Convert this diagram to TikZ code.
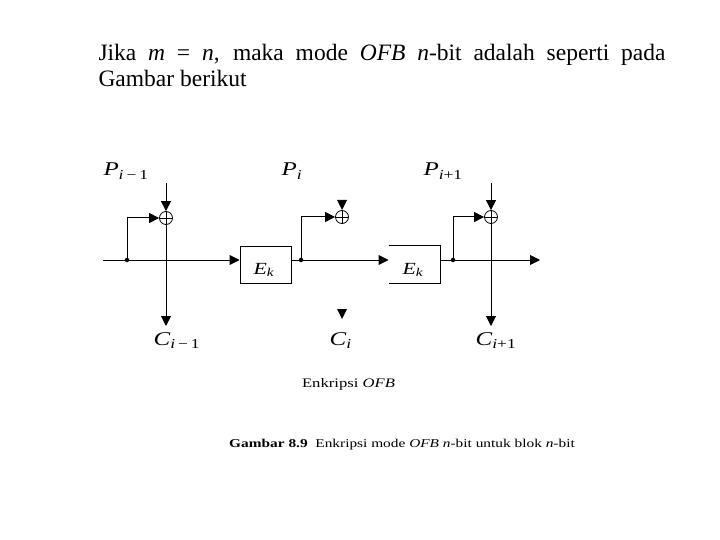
\documentclass[tikz,border=0pt]{standalone}
\usepackage{fontspec}
\setmainfont{Liberation Serif}
\usetikzlibrary{arrows.meta}
\newcommand{\lab}[2]{\scalebox{1.28}[1]{\fontsize{19.5}{22}\selectfont\textit{#1}\textsubscript{#2}}}
\newcommand{\stretchtxt}[1]{\scalebox{1.28}[1]{#1}}
\begin{document}
\begin{tikzpicture}[x=1pt,y=-1pt,line width=1pt,
  arr/.style={-{Triangle[length=10pt,width=10pt]}},
  xor/.style={circle,draw,line width=0.8pt,minimum size=13pt,inner sep=0pt,
    path picture={\draw[line width=0.8pt] (path picture bounding box.north) -- (path picture bounding box.south)
      (path picture bounding box.west) -- (path picture bounding box.east);}},
  ekbox/.style={minimum width=51pt,minimum height=37pt,inner sep=0pt},
  dotn/.style={circle,fill,inner sep=0pt,minimum size=4.5pt},
  lbl/.style={anchor=base west,inner sep=0pt},
  headtxt/.style={anchor=base west,inner sep=0pt,font=\fontsize{23.5}{27}\selectfont}
]
\useasboundingbox (0,0) rectangle (720,540);
% heading
\node[headtxt] (h1) at (98,61) {\makebox[567pt][s]{Jika \textit{m} = \textit{n}, maka mode \textit{OFB} \textit{n}-bit adalah seperti pada}};
\node[headtxt] (h2) at (98,87) {Gambar berikut};
% nodes
\coordinate (start) at (103,260);
\coordinate (end) at (540,260);
\node[dotn] (dot1) at (127,260) {};
\node[dotn] (dot2) at (301,260) {};
\node[dotn] (dot3) at (453,260) {};
\node[xor] (xor1) at (166,218) {};
\node[xor] (xor2) at (342,217) {};
\node[xor] (xor3) at (491,217) {};
\coordinate (top1) at (166,183);
\coordinate (bot1) at (166,326);
\coordinate (top3) at (491,183);
\coordinate (bot3) at (491,326);
\node[ekbox,draw] (ek1) at (265.5,264.5) {};
\node[ekbox] (ek2) at (414.5,264.5) {};
\draw (ek2.north west) -- (ek2.north east) -- (ek2.south east) -- (ek2.south west);
\node[lbl] (e1) at (253,274) {\scalebox{1.28}[1]{\fontsize{17}{20}\selectfont\textit{E}\textsubscript{\textit{k}}}};
\node[lbl] (e2) at (402,274) {\scalebox{1.28}[1]{\fontsize{17}{20}\selectfont\textit{E}\textsubscript{\textit{k}}}};
% main line
\draw[arr] (start) -- (ek1.west |- start);
\draw[arr] (ek1.east |- start) -- (ek2.west |- start);
\draw[arr] (ek2.east |- start) -- (end);
% feedback
\draw[arr] (dot1.center) |- (xor1.west);
\draw[arr] (dot2.center) |- (xor2.west);
\draw[arr] (dot3.center) |- (xor3.west);
% verticals
\draw[arr] (top1) -- (xor1.north);
\draw[arr] (xor1.south) -- (bot1);
\draw[arr] (top3) -- (xor3.north);
\draw[arr] (xor3.south) -- (bot3);
% lone arrowheads column 2
\fill (337,200) -- (347,200) -- (342,210) -- cycle;
\fill (337,309) -- (347,309) -- (342,319) -- cycle;
% labels
\node[lbl] (p1) at (103,176) {\lab{P}{\textit{i}\,−\,1}};
\node[lbl] (p2) at (281,176) {\lab{P}{\textit{i}}};
\node[lbl] (p3) at (423,176) {\lab{P}{\textit{i}+1}};
\node[lbl] (c1) at (153,345) {\lab{C}{\textit{i}\,−\,1}};
\node[lbl] (c2) at (329,345) {\lab{C}{\textit{i}}};
\node[lbl] (c3) at (475,345) {\lab{C}{\textit{i}+1}};
% captions
\node[anchor=base,inner sep=0pt] (cap1) at (348.5,387) {\stretchtxt{\fontsize{13}{15}\selectfont Enkripsi \textit{OFB}}};
\node[anchor=base,inner sep=0pt] (cap2) at (402,447) {\stretchtxt{\fontsize{12}{14}\selectfont\textbf{Gambar 8.9}\ \ Enkripsi mode \textit{OFB} \textit{n}-bit untuk blok \textit{n}-bit}};
\end{tikzpicture}
\end{document}
